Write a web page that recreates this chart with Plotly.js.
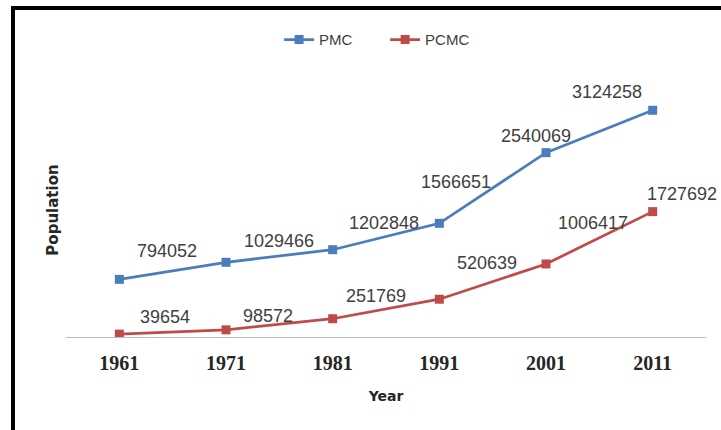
<!DOCTYPE html>
<html>
<head>
<meta charset="utf-8">
<script src="https://cdn.plot.ly/plotly-3.0.1.min.js"></script>
<style>
  html, body { margin: 0; padding: 0; background: #ffffff; }
  #wrap { position: relative; width: 721px; height: 430px; overflow: hidden; }
  #chart { position: absolute; left: 0; top: 0; width: 721px; height: 430px; }
  #frame {
    position: absolute; left: 11px; top: 6px; width: 707px; height: 460px;
    border: 4px solid #000; box-sizing: content-box; pointer-events: none;
  }
</style>
</head>
<body>
<div id="wrap">
  <div id="chart"></div>
  <div id="frame"></div>
</div>
<script>
// Census years and population of the two municipal corporations
const years = ['1961', '1971', '1981', '1991', '2001', '2011'];
const pmc = [794052, 1029466, 1202848, 1566651, 2540069, 3124258];
const pcmc = [39654, 98572, 251769, 520639, 1006417, 1727692];

// Pixel offsets of each value label from its point
const pmcLabelShift = [[48, 28], [53, 21], [51, 27], [17, 41], [-10, 17], [-46, 18]];
const pcmcLabelShift = [[46, 17], [42, 14], [43, 23], [48, 36], [47, 41], [29, 18]];

const blue = '#4a7ebb';
const red = '#be4b48';

function series(name, values, color) {
  return {
    type: 'scatter', mode: 'lines+markers', name: name,
    x: years, y: values,
    line: { color: color, width: 2.75 },
    marker: { symbol: 'square', size: 9, color: color },
    hoverinfo: 'skip'
  };
}

// Value labels, placed on the category index of each year
function valueLabels(values, shifts) {
  return values.map((v, i) => ({
    x: i, y: v, xref: 'x', yref: 'y',
    text: String(v), showarrow: false,
    xanchor: 'center', yanchor: 'middle',
    xshift: shifts[i][0], yshift: shifts[i][1],
    font: { family: 'Liberation Sans, Arial, sans-serif', size: 18, color: '#404040' }
  }));
}

const layout = {
  width: 721, height: 430,
  margin: { l: 66, r: 15, t: 83, b: 93 },
  paper_bgcolor: 'rgba(0,0,0,0)', plot_bgcolor: 'rgba(0,0,0,0)',
  showlegend: true,
  legend: {
    orientation: 'h', x: 0.333, xanchor: 'left', y: 1.17, yanchor: 'middle',
    entrywidth: 61, entrywidthmode: 'pixels',
    font: { family: 'Liberation Sans, Arial, sans-serif', size: 15, color: '#404040' },
    bgcolor: 'rgba(0,0,0,0)'
  },
  xaxis: {
    type: 'category', range: [-0.5, 5.5],
    showline: true, linecolor: '#bfbfbf', linewidth: 1,
    showgrid: false, zeroline: false, ticks: '',
    ticklabelstandoff: 8,
    tickfont: { family: 'Liberation Serif, Times New Roman, serif', size: 20, color: '#262626', weight: 'bold' },
    title: {
      text: '<b>Year</b>', standoff: 18,
      font: { family: 'DejaVu Sans, sans-serif', size: 14, color: '#262626' }
    }
  },
  yaxis: {
    range: [0, 3500000],
    showline: false, showgrid: false, zeroline: false,
    showticklabels: false, ticks: '',
    title: {
      text: '<b>Population</b>', standoff: 2,
      font: { family: 'DejaVu Sans, sans-serif', size: 15, color: '#262626' }
    }
  },
  annotations: valueLabels(pmc, pmcLabelShift).concat(valueLabels(pcmc, pcmcLabelShift))
};

Plotly.newPlot('chart', [series('PMC', pmc, blue), series('PCMC', pcmc, red)], layout,
  { staticPlot: true, displayModeBar: false });
</script>
</body>
</html>
